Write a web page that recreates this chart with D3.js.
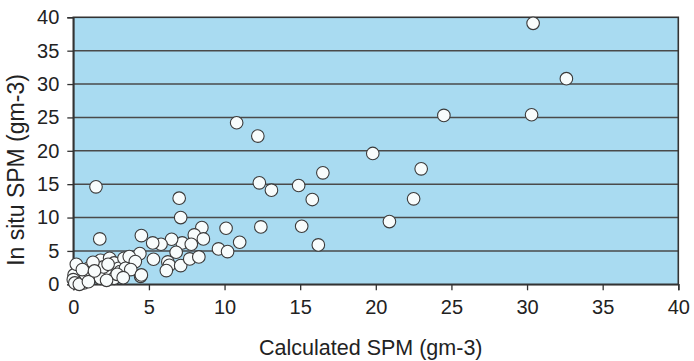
<!DOCTYPE html>
<html>
<head>
<meta charset="utf-8">
<script src="https://cdn.jsdelivr.net/npm/d3@7/dist/d3.min.js"></script>
<style>
  html, body { margin: 0; padding: 0; background: #ffffff; }
  svg { display: block; }
  text { font-family: "Liberation Sans", Arial, sans-serif; fill: #222; }
</style>
</head>
<body>
<svg id="chart" width="694" height="361"></svg>
<script>
// Calculated SPM (x) against in situ SPM (y), both in gm-3
const calculatedSPM = [
  30.4, 32.6, 30.3, 24.5, 10.8, 12.2, 19.8, 16.5, 23.0, 12.3, 13.1, 14.9, 15.8, 22.5,
  1.5, 7.0, 7.1, 12.4, 15.1, 20.9, 16.2, 8.5, 10.1, 11.0, 9.6, 10.2, 8.0, 8.6,
  7.2, 7.8, 6.5, 5.8, 5.25, 4.5, 1.75, 6.8, 5.3, 6.25, 6.35, 6.15, 7.1, 7.7, 8.3,
  4.4, 4.45,
  0.3, 0.5, 1.0, 0.7, 1.5, 1.8, 2.4, 2.7, 3.0, 3.35, 3.7, 4.1, 2.5, 2.1, 1.6, 1.25,
  0.05, 0.0, 0.1, 0.4, 1.8, 2.7, 3.1, 3.45, 3.8, 4.5, 0.8, 2.0, 2.9, 1.3, 2.2, 1.0, 0.2,
  0.6, 1.4, 2.3, 3.3
];
const inSituSPM = [
  39.1, 30.8, 25.4, 25.3, 24.2, 22.2, 19.6, 16.7, 17.3, 15.2, 14.1, 14.8, 12.7, 12.8,
  14.6, 12.9, 10.0, 8.6, 8.7, 9.4, 5.9, 8.5, 8.4, 6.3, 5.3, 4.9, 7.4, 6.8,
  6.2, 6.0, 6.75, 6.0, 6.2, 7.3, 6.8, 4.8, 3.75, 3.35, 2.85, 2.05, 2.8, 3.8, 4.1,
  4.6, 1.2,
  1.9, 0.9, 2.4, 0.2, 2.9, 3.6, 3.9, 3.2, 2.4, 3.9, 4.15, 3.4, 1.4, 1.9, 1.9, 1.15,
  1.4, 0.7, 0.2, 0.0, 0.9, 0.9, 1.9, 2.4, 2.2, 1.4, 1.5, 2.6, 1.5, 3.3, 0.6, 0.4, 3.0,
  2.2, 2.0, 3.0, 1.0
];
const xTicks = [0, 5, 10, 15, 20, 25, 30, 35, 40];
const yTicks = [0, 5, 10, 15, 20, 25, 30, 35, 40];
const xTitle = "Calculated SPM (gm-3)";
const yTitle = "In situ SPM (gm-3)";

const points = calculatedSPM.map((x, i) => ({ x, y: inSituSPM[i] }));

const svg = d3.select("#chart");
const margin = { left: 73.3, top: 17.3 };
const width = 605, height = 267;

const x = d3.scaleLinear().domain([0, 40]).range([0, width]);
const y = d3.scaleLinear().domain([0, 40]).range([height, 0]);

const g = svg.append("g").attr("transform", `translate(${margin.left},${margin.top})`);

// plot background
g.append("rect")
  .attr("x", 0).attr("y", 0)
  .attr("width", width).attr("height", height)
  .attr("fill", "#a9dbf1");

// horizontal gridlines
g.append("g")
  .selectAll("line")
  .data(yTicks.filter(d => d > 0 && d < 40))
  .join("line")
  .attr("x1", 0).attr("x2", width)
  .attr("y1", d => y(d)).attr("y2", d => y(d))
  .attr("stroke", "#4a4a4a")
  .attr("stroke-width", 1.4);

// frame
g.append("rect")
  .attr("x", 0).attr("y", 0)
  .attr("width", width).attr("height", height)
  .attr("fill", "none")
  .attr("stroke", "#333")
  .attr("stroke-width", 1.6);

// axes
const xAxis = d3.axisBottom(x).tickValues(xTicks).tickSize(6).tickPadding(10).tickFormat(d3.format("d"));
const yAxis = d3.axisLeft(y).tickValues(yTicks).tickSize(6).tickPadding(8).tickFormat(d3.format("d"));

const gx = g.append("g").attr("transform", `translate(0,${height})`).call(xAxis);
const gy = g.append("g").call(yAxis);

[gx, gy].forEach(ax => {
  ax.select(".domain").attr("stroke", "#333").attr("stroke-width", 1.6);
  ax.selectAll(".tick line").attr("stroke", "#333").attr("stroke-width", 1.3);
  ax.selectAll(".tick text")
    .attr("fill", "#222")
    .style("font-family", "'Liberation Sans', Arial, sans-serif")
    .style("font-size", "20px");
});

// data points
g.append("g")
  .selectAll("circle")
  .data(points)
  .join("circle")
  .attr("cx", d => x(d.x))
  .attr("cy", d => y(d.y))
  .attr("r", 6.3)
  .attr("fill", "#f8fcfc")
  .attr("stroke", "#3a3a3a")
  .attr("stroke-width", 1.1);

// axis titles
svg.append("text")
  .attr("x", margin.left + width / 2 - 5)
  .attr("y", 355)
  .attr("text-anchor", "middle")
  .style("font-size", "21.5px")
  .text(xTitle);

svg.append("text")
  .attr("transform", `translate(24,170) rotate(-90)`)
  .attr("text-anchor", "middle")
  .style("font-size", "23px")
  .text(yTitle);
</script>
</body>
</html>
